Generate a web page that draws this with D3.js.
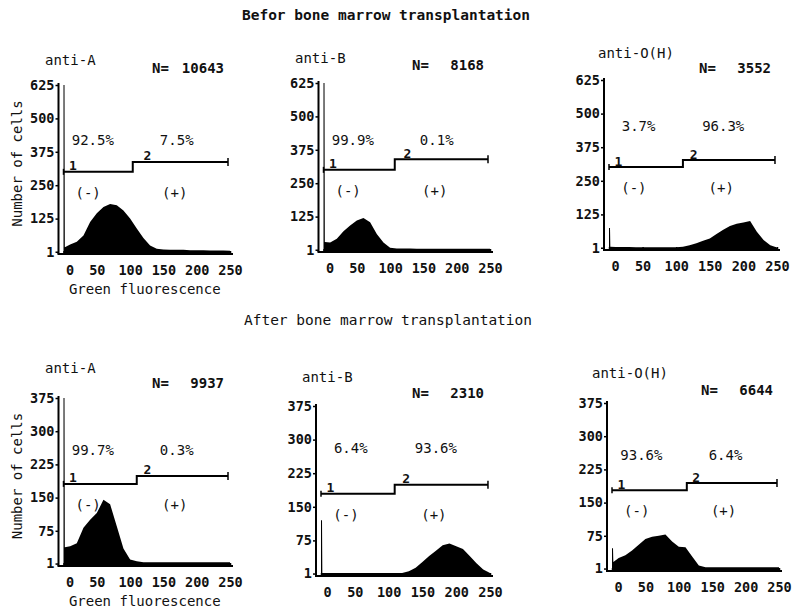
<!DOCTYPE html>
<html>
<head>
<meta charset="utf-8">
<script src="https://cdn.jsdelivr.net/npm/d3@7"></script>
<style>
  body { margin: 0; background: #fff; }
  svg text { font-family: "DejaVu Sans Mono", monospace; fill: #111; }
</style>
</head>
<body>
<div id="chart"></div>
<script>
// fluorescence channels the histograms are sampled at
const channels = [0, 1.5, 2, 10, 20, 30, 40, 50, 60, 70, 80, 90, 100, 110, 120, 130,
  140, 150, 160, 170, 180, 190, 200, 210, 220, 230, 240, 250];

// cell counts per channel, one array per panel
const beforeA = [700, 700, 18, 28, 38, 62, 112, 145, 168, 180, 175, 155, 125, 88, 52, 24, 12, 9, 8, 8, 8, 7, 7, 7, 6, 6, 6, 5];
const beforeB = [700, 700, 30, 28, 42, 70, 92, 110, 120, 104, 60, 28, 8, 6, 6, 6, 5, 5, 5, 5, 5, 5, 5, 5, 5, 5, 5, 5];
const beforeO = [74, 74, 5, 4, 4, 4, 3, 3, 3, 3, 3, 3, 3, 5, 10, 18, 27, 35, 52, 68, 82, 90, 95, 100, 60, 30, 10, 2];
const afterA = [500, 500, 38, 40, 47, 82, 100, 115, 145, 135, 85, 35, 10, 6, 4, 4, 4, 4, 4, 4, 4, 4, 4, 4, 4, 4, 4, 4];
const afterB = [120, 120, 2, 2, 2, 2, 2, 2, 2, 2, 2, 2, 2, 2, 2, 6, 14, 27, 40, 52, 64, 68, 62, 56, 40, 24, 10, 2];
const afterO = [47, 47, 16, 25, 31, 42, 55, 68, 73, 75, 78, 62, 50, 49, 28, 8, 4, 4, 4, 4, 4, 4, 4, 4, 4, 4, 4, 4];

const counts = [beforeA, beforeB, beforeO, afterA, afterB, afterO];
const reagents = ["anti-A", "anti-B", "anti-O(H)", "anti-A", "anti-B", "anti-O(H)"];
const totals = ["10643", "8168", "3552", "9937", "2310", "6644"];
const pctNeg = ["92.5%", "99.9%", "3.7%", "99.7%", "6.4%", "93.6%"];
const pctPos = ["7.5%", "0.1%", "96.3%", "0.3%", "93.6%", "6.4%"];

// gate markers: marker 1 level, marker 2 level, split channel
const gateLow = [300, 300, 301, 181, 179, 178];
const gateHigh = [337, 340, 327, 199, 199, 194];
const gateSplit = [104, 107, 110, 110, 109, 112];
const gateEnd = 247;

const yMax = [625, 625, 625, 375, 375, 375];
const yTicksBefore = [1, 125, 250, 375, 500, 625];
const yTicksAfter = [1, 75, 150, 225, 300, 375];
const xTicks = [0, 50, 100, 150, 200, 250];

// pixel frame of each panel
const layout = [
  {x0: 63.5, x1: 230, yb: 252, yt: 85, tx: 45, ty: 60, nY: 68, pctDy: 32, axisLabels: true},
  {x0: 323.5, x1: 490, yb: 250, yt: 83, tx: 295, ty: 58, nY: 65, pctDy: 30},
  {x0: 609, x1: 777, yb: 248, yt: 80, tx: 598, ty: 53, nY: 68, pctDy: 41},
  {x0: 63.5, x1: 230, yb: 564, yt: 398, tx: 45, ty: 368, nY: 383, pctDy: 34, axisLabels: true},
  {x0: 321, x1: 490, yb: 574, yt: 406, tx: 302, ty: 377, nY: 393, pctDy: 46},
  {x0: 612, x1: 779, yb: 569, yt: 403, tx: 592, ty: 373, nY: 390, pctDy: 35}
];

const W = 794, H = 613;
const svg = d3.select("#chart").append("svg").attr("width", W).attr("height", H);
svg.append("rect").attr("width", W).attr("height", H).attr("fill", "#fff");

svg.append("text").attr("x", 386).attr("y", 15).attr("text-anchor", "middle")
  .attr("dominant-baseline", "central").attr("font-size", 14.5).attr("font-weight", "bold")
  .text("Befor bone marrow transplantation");
svg.append("text").attr("x", 388).attr("y", 320).attr("text-anchor", "middle")
  .attr("dominant-baseline", "central").attr("font-size", 14.5)
  .text("After bone marrow transplantation");

counts.forEach((vals, i) => {
  const L = layout[i];
  const g = svg.append("g");
  const x = d3.scaleLinear().domain([0, 250]).range([L.x0, L.x1]);
  const y = d3.scaleLinear().domain([0, yMax[i]]).range([L.yb, L.yt]).clamp(true);
  const axisX = L.x0 - 5;

  // histogram
  const area = d3.area()
    .x((d, j) => x(channels[j]))
    .y0(L.yb + 1)
    .y1(d => y(d));
  g.append("path").datum(vals).attr("d", area).attr("fill", "#000");

  // axes
  const yAxis = d3.axisLeft(y).tickValues(i < 3 ? yTicksBefore : yTicksAfter)
    .tickSize(3).tickSizeOuter(0).tickFormat(d3.format("d"));
  const ga = g.append("g").attr("transform", `translate(${axisX},0)`).call(yAxis);
  ga.select(".domain").remove();
  ga.selectAll("line").attr("stroke", "#000").attr("stroke-width", 1.5);
  ga.selectAll("text").attr("x", -4).attr("font-size", 13.5).attr("font-weight", "bold")
    .attr("font-family", "DejaVu Sans Mono").attr("fill", "#111");

  const xAxis = d3.axisBottom(x).tickValues(xTicks).tickSize(-3).tickSizeOuter(0)
    .tickFormat(d3.format("d"));
  const gb = g.append("g").attr("transform", `translate(0,${L.yb + 2})`).call(xAxis);
  gb.select(".domain").remove();
  gb.selectAll("line").attr("stroke", "#000").attr("stroke-width", 1.5);
  gb.selectAll("text").attr("y", 16).attr("dy", "0.35em")
    .attr("dx", d => d === 0 ? 6 : 0)
    .attr("font-size", 13.5).attr("font-weight", "bold")
    .attr("font-family", "DejaVu Sans Mono").attr("fill", "#111");

  g.append("line").attr("x1", axisX).attr("x2", axisX)
    .attr("y1", L.yb + 2).attr("y2", L.yt - 2).attr("stroke", "#000").attr("stroke-width", 2);
  g.append("line").attr("x1", axisX - 1).attr("x2", L.x1 + 3)
    .attr("y1", L.yb + 2).attr("y2", L.yb + 2).attr("stroke", "#000").attr("stroke-width", 2);

  // gate markers
  const gy1 = y(gateLow[i]), gy2 = y(gateHigh[i]);
  const xs = x(gateSplit[i]);
  const gate = g.append("g").attr("stroke", "#000").attr("stroke-width", 2).attr("fill", "none");
  gate.append("path").attr("d", `M${x(0)},${gy1}H${xs}V${gy2}H${x(gateEnd)}`);
  gate.append("line").attr("x1", x(0)).attr("x2", x(0)).attr("y1", gy1 - 3).attr("y2", gy1 + 3)
    .attr("stroke-width", 1.5);
  gate.append("line").attr("x1", x(gateEnd)).attr("x2", x(gateEnd)).attr("y1", gy2 - 4).attr("y2", gy2 + 4)
    .attr("stroke-width", 1.5);

  g.append("text").attr("x", x(14)).attr("y", gy1 - 6).attr("text-anchor", "middle")
    .attr("dominant-baseline", "central").attr("font-size", 13).attr("font-weight", "bold").text("1");
  g.append("text").attr("x", x(126)).attr("y", gy2 - 6).attr("text-anchor", "middle")
    .attr("dominant-baseline", "central").attr("font-size", 13).attr("font-weight", "bold").text("2");

  // percentages and signs
  g.append("text").attr("x", x(44)).attr("y", gy1 - L.pctDy).attr("text-anchor", "middle")
    .attr("dominant-baseline", "central").attr("font-size", 14).text(pctNeg[i]);
  g.append("text").attr("x", x(170)).attr("y", gy1 - L.pctDy).attr("text-anchor", "middle")
    .attr("dominant-baseline", "central").attr("font-size", 14).text(pctPos[i]);
  g.append("text").attr("x", x(37)).attr("y", gy1 + 21).attr("text-anchor", "middle")
    .attr("dominant-baseline", "central").attr("font-size", 14).text("(-)");
  g.append("text").attr("x", x(167)).attr("y", gy1 + 21).attr("text-anchor", "middle")
    .attr("dominant-baseline", "central").attr("font-size", 14).text("(+)");

  // panel title and N
  g.append("text").attr("x", L.tx).attr("y", L.ty).attr("dominant-baseline", "central")
    .attr("font-size", 14).text(reagents[i]);
  g.append("text").attr("x", L.x1 - 78).attr("y", L.nY).attr("dominant-baseline", "central")
    .attr("font-size", 14).attr("font-weight", "bold").text("N=");
  g.append("text").attr("x", L.x1 - 6).attr("y", L.nY).attr("text-anchor", "end")
    .attr("dominant-baseline", "central").attr("font-size", 14).attr("font-weight", "bold")
    .text(totals[i]);

  if (L.axisLabels) {
    g.append("text").attr("transform", `translate(${axisX - 42},${(L.yb + L.yt) / 2 - 5}) rotate(-90)`)
      .attr("text-anchor", "middle").attr("dominant-baseline", "central")
      .attr("font-size", 14).text("Number of cells");
    g.append("text").attr("x", (L.x0 + L.x1) / 2 - 2).attr("y", L.yb + 37)
      .attr("text-anchor", "middle").attr("dominant-baseline", "central")
      .attr("font-size", 14).text("Green fluorescence");
  }
});
</script>
</body>
</html>
